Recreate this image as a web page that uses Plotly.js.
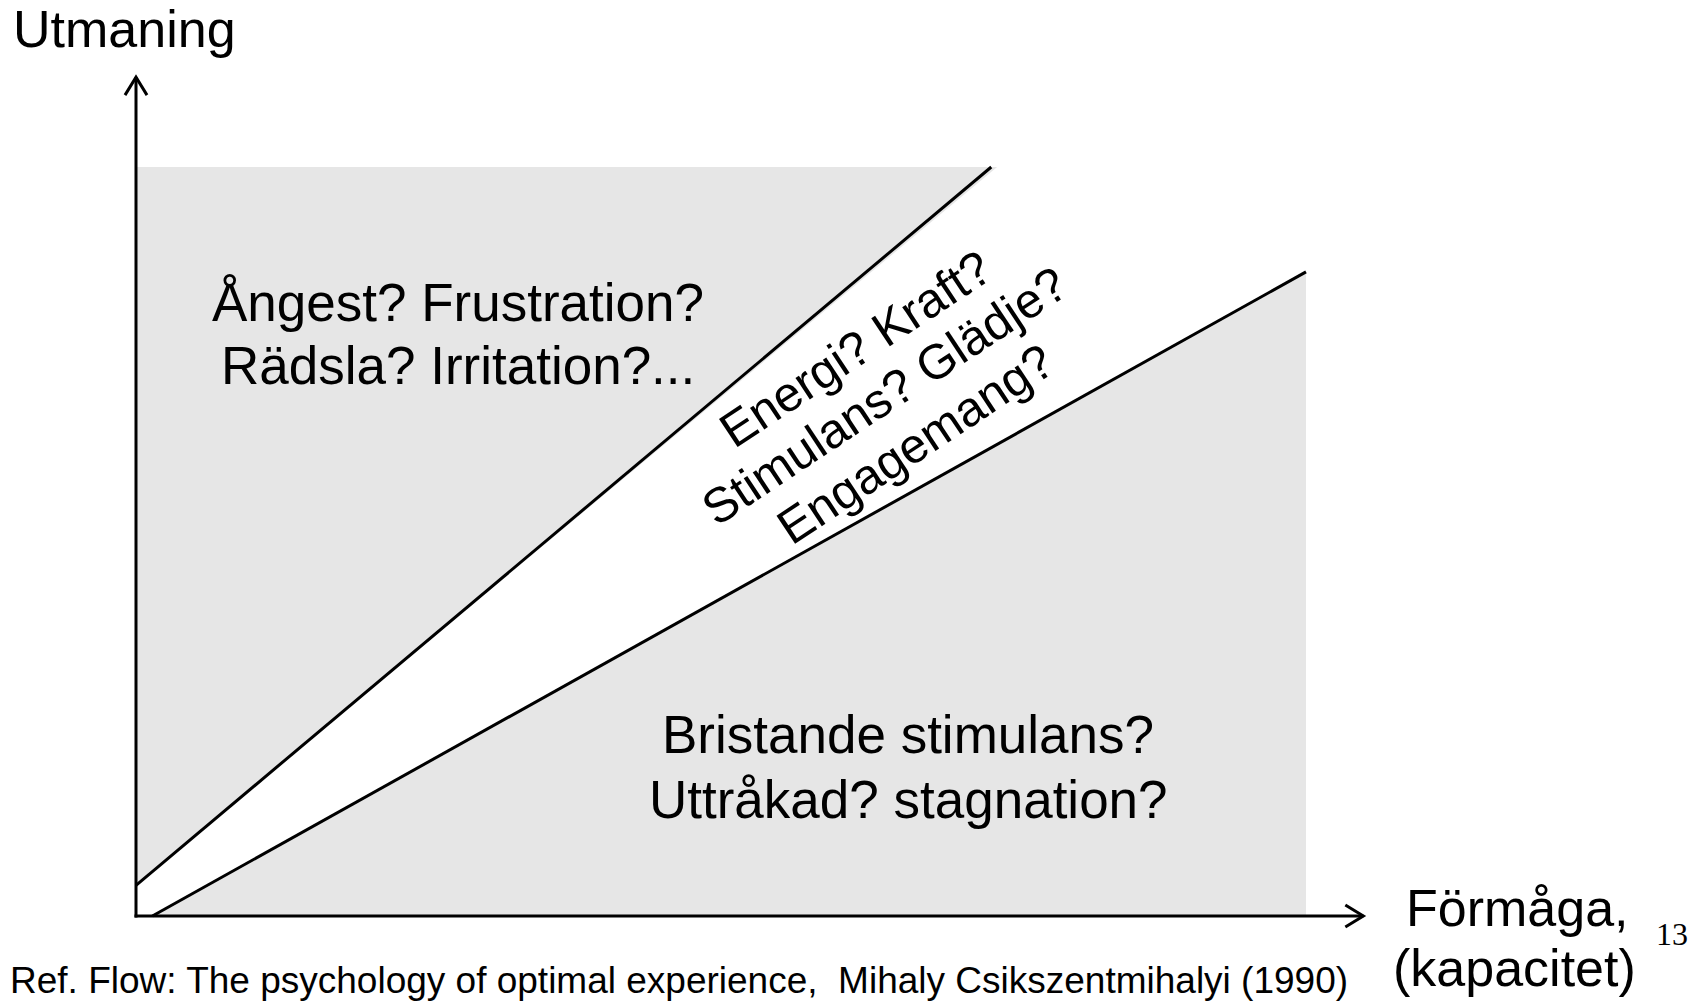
<!DOCTYPE html>
<html>
<head>
<meta charset="utf-8">
<script src="https://cdn.plot.ly/plotly-3.0.1.min.js"></script>
<style>
  html, body { margin: 0; padding: 0; background: #ffffff; }
  #chart { width: 1705px; height: 1002px; }
</style>
</head>
<body>
<div id="chart"></div>
<script>
// ---- Diagram data (units: capacity on x, challenge on y; grey field spans 0..10) ----
const upperCapacity   = [0, 7.31];      // "anxiety" boundary
const upperChallenge  = [0.41, 10];
const lowerCapacity   = [0.14, 10];     // "boredom" boundary
const lowerChallenge  = [0, 8.60];
const fieldTop        = 10;
const fieldRight      = 10;
const xAxisEnd        = 10.49;
const yAxisEnd        = 11.20;

const anxietyLines  = ["Ångest? Frustration?", "Rädsla? Irritation?..."];
const flowLines     = ["Energi? Kraft?", "Stimulans? Glädje?", "Engagemang?"];
const boredomLines  = ["Bristande stimulans?", "Uttråkad? stagnation?"];
const yTitle        = "Utmaning";
const xTitleLines   = ["Förmåga,", "(kapacitet)"];
const pageNumber    = "13";
const reference     = "Ref. Flow: The psychology of optimal experience,  Mihaly Csikszentmihalyi (1990)";

// ---- layout constants (pixel mapping) ----
const W = 1705, H = 1002;
const OX = 136, OY = 916;          // origin pixel
const PXX = 117, PXY = 74.9;       // pixels per unit
const px2x = p => (p - OX) / PXX;
const px2y = p => (OY - p) / PXY;

const GREY = '#e6e6e6';
const SANS = 'Liberation Sans, Arial, sans-serif';

const traces = [];
// upper grey field (anxiety region)
traces.push({
  x: [0, 0, upperCapacity[1] + 0.05, upperCapacity[0]],
  y: [upperChallenge[0], fieldTop, fieldTop, upperChallenge[0]],
  mode: 'lines', fill: 'toself', fillcolor: GREY, line: {width: 0, color: GREY},
  hoverinfo: 'skip'
});
// lower grey field (boredom region)
traces.push({
  x: [lowerCapacity[0], lowerCapacity[1], fieldRight, lowerCapacity[0]],
  y: [lowerChallenge[0], lowerChallenge[1], 0, lowerChallenge[0]],
  mode: 'lines', fill: 'toself', fillcolor: GREY, line: {width: 0, color: GREY},
  hoverinfo: 'skip'
});
// boundary lines
traces.push({x: upperCapacity, y: upperChallenge, mode: 'lines', line: {color: '#000', width: 3}});
traces.push({x: lowerCapacity, y: lowerChallenge, mode: 'lines', line: {color: '#000', width: 3}});
// axes
traces.push({x: [px2x(OX - 1.5), xAxisEnd], y: [0, 0], mode: 'lines', line: {color: '#000', width: 3}});
traces.push({x: [0, 0], y: [px2y(OY + 1.5), yAxisEnd], mode: 'lines', line: {color: '#000', width: 3}});
// arrow heads (open chevrons)
const back = 18, half = 11;
traces.push({
  x: [xAxisEnd - back / PXX, xAxisEnd, xAxisEnd - back / PXX],
  y: [half / PXY, 0, -half / PXY],
  mode: 'lines', line: {color: '#000', width: 3}
});
traces.push({
  x: [-half / PXX, 0, half / PXX],
  y: [yAxisEnd - back / PXY, yAxisEnd, yAxisEnd - back / PXY],
  mode: 'lines', line: {color: '#000', width: 3}
});

function ann(text, px, py, size, opts) {
  return Object.assign({
    text: text, x: px2x(px), y: px2y(py), xref: 'x', yref: 'y',
    showarrow: false, xanchor: 'center', yanchor: 'middle', borderpad: 0,
    font: {family: SANS, size: size, color: '#000'}
  }, opts || {});
}
const mid = (baseline, size) => baseline - 0.3465 * size;

const annotations = [];
annotations.push(ann(yTitle, 12, mid(47, 52), 52, {xanchor: 'left'}));
annotations.push(ann(anxietyLines[0], 458, mid(321, 53), 53));
annotations.push(ann(anxietyLines[1], 458, mid(384, 53), 53));
annotations.push(ann(boredomLines[0], 908, mid(753, 53), 53));
annotations.push(ann(boredomLines[1], 908, mid(818, 53), 53));
annotations.push(ann(xTitleLines[0], 1405, mid(926, 52), 52, {xanchor: 'left'}));
annotations.push(ann(xTitleLines[1], 1392, mid(986, 52), 52, {xanchor: 'left'}));
annotations.push(ann(pageNumber, 1655, mid(945, 32), 32, {xanchor: 'left', font: {family: 'Liberation Serif, Times New Roman, serif', size: 32, color: '#000'}}));
annotations.push(ann(reference, 9, mid(993, 37), 37, {xanchor: 'left'}));
const flowCenters = [[855, 349], [884, 396], [915, 444]];
flowLines.forEach((t, i) => {
  annotations.push(ann(t, flowCenters[i][0], flowCenters[i][1], 49, {textangle: -33.5}));
});

const layout = {
  width: W, height: H, autosize: false,
  margin: {l: 0, r: 0, t: 0, b: 0, pad: 0},
  paper_bgcolor: '#ffffff', plot_bgcolor: '#ffffff',
  showlegend: false, hovermode: false,
  xaxis: {range: [px2x(0), px2x(W)], visible: false, showgrid: false, zeroline: false, fixedrange: true},
  yaxis: {range: [px2y(H), px2y(0)], visible: false, showgrid: false, zeroline: false, fixedrange: true},
  annotations: annotations
};

Plotly.newPlot('chart', traces, layout, {staticPlot: true, displayModeBar: false});
</script>
</body>
</html>
